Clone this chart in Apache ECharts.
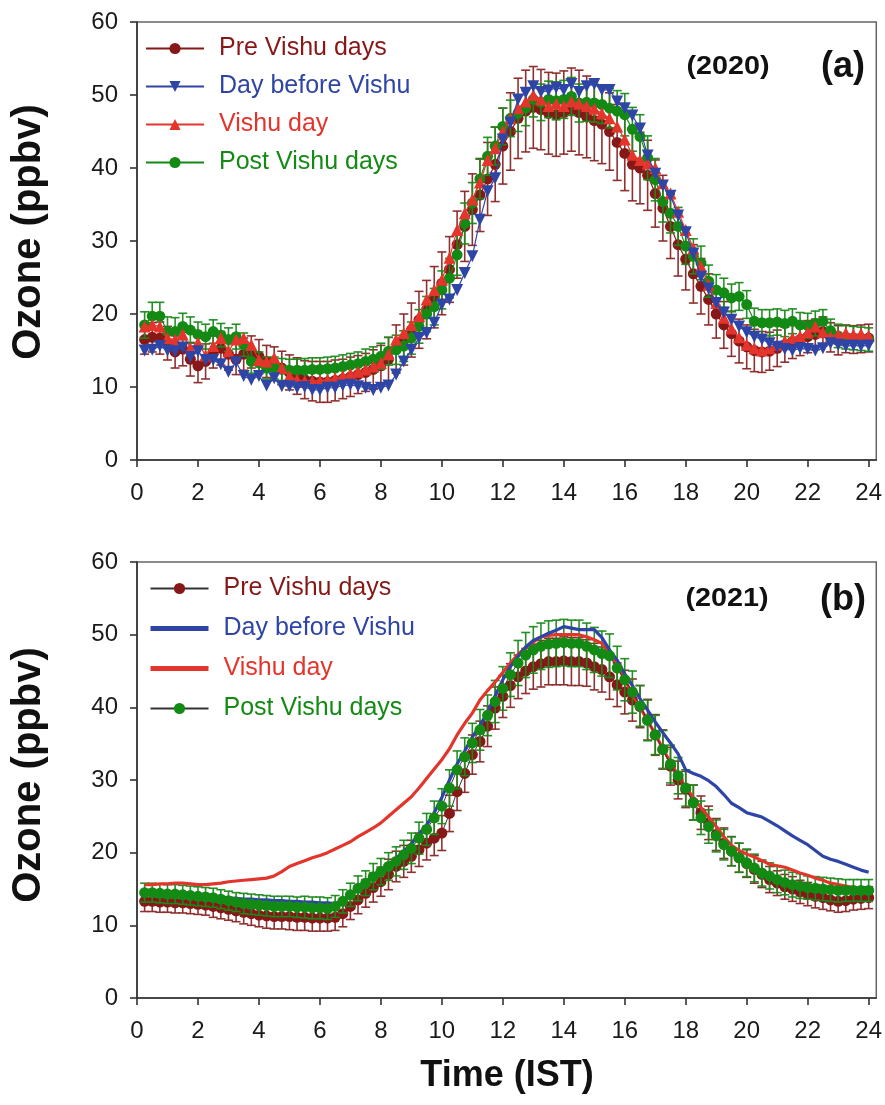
<!DOCTYPE html>
<html><head><meta charset="utf-8">
<script src="https://cdn.jsdelivr.net/npm/echarts@6/dist/echarts.min.js"></script>
<style>html,body{margin:0;padding:0;background:#fff}#c{width:885px;height:1105px}</style>
</head><body><div id="c"></div>
<script>
// time of day (IST), 15-min steps
const hours = [];
for (let i = 1; i <= 96; i++) hours.push(i * 0.25);
const xTicks = [0, 2, 4, 6, 8, 10, 12, 14, 16, 18, 20, 22, 24];
const seriesNames = ['Pre Vishu days', 'Day before Vishu', 'Vishu day', 'Post Vishu days'];

// ---- (a) 2020 ----
const preA = [
 16.5,16.8,16.7,16.0,14.8,15.2,13.8,12.9,
 13.5,14.8,15.3,14.5,13.8,14.5,14.8,14.2,
 13.5,13.2,12.6,12.0,11.5,11.0,10.8,10.7,
 10.7,10.9,11.1,11.4,11.7,12.0,12.4,12.9,
 13.8,15.2,16.5,17.8,19.2,20.6,22.3,24.2,
 26.1,29.5,32.0,34.3,36.3,38.5,40.5,43.0,
 45.0,46.8,47.8,48.3,48.0,47.5,47.3,47.6,
 48.0,47.6,47.0,46.5,46.0,45.0,43.5,42.0,
 40.5,40.0,39.0,36.5,34.5,32.0,29.5,27.5,
 25.5,23.8,22.0,20.0,18.5,17.3,16.3,15.5,
 15.0,14.8,14.9,15.3,15.8,16.2,16.5,16.9,
 17.2,17.6,16.8,16.4,16.6,16.5,16.6,16.7];
const blueA = [
 15.0,15.1,15.6,15.0,14.9,15.4,14.1,14.9,
 13.7,13.7,13.1,12.1,13.4,11.5,11.0,11.5,
 10.2,11.2,10.1,10.1,9.9,10.0,9.6,9.6,
 9.9,9.9,10.2,10.3,10.1,9.9,9.6,9.9,
 10.2,11.7,13.5,15.1,16.7,17.4,18.8,21.3,
 22.0,23.3,25.6,27.9,32.9,36.8,38.6,43.9,
 46.2,49.4,50.3,51.2,50.4,50.6,51.0,50.7,
 51.5,50.4,51.2,51.5,50.7,50.7,49.1,48.2,
 47.2,45.4,41.7,39.2,37.6,36.2,33.5,31.2,
 28.3,25.1,23.5,21.5,20.2,19.2,18.3,17.5,
 16.9,16.5,16.0,15.5,15.2,15.0,15.3,15.2,
 15.0,15.3,16.0,15.8,15.6,15.7,15.6,15.7];
const redA = [
 18.3,18.5,18.3,16.7,16.5,17.2,15.3,16.1,
 14.3,15.6,16.7,14.9,16.5,16.7,15.8,13.7,
 13.5,14.0,12.6,11.5,11.0,10.8,10.8,10.9,
 11.0,11.2,11.5,11.8,12.1,12.4,12.8,13.3,
 14.5,16.5,17.4,18.5,19.7,22.0,23.3,24.7,
 27.7,31.5,33.8,35.7,38.0,41.1,42.7,45.0,
 46.8,48.2,49.1,50.0,49.4,48.5,48.8,48.5,
 49.1,48.8,48.5,48.1,47.5,46.8,45.7,43.9,
 41.8,41.1,40.6,40.0,37.9,36.5,34.0,31.5,
 29.0,26.5,24.0,21.5,19.5,18.0,16.8,15.8,
 15.3,15.0,15.3,15.8,16.3,16.7,17.0,17.5,
 18.3,17.5,16.9,17.2,17.4,17.2,17.3,17.0];
const postA = [
 18.5,19.7,19.7,17.6,17.6,18.3,17.8,17.2,
 16.9,17.6,17.1,16.5,16.9,15.8,13.5,13.3,
 12.6,12.6,12.4,12.3,12.3,12.3,12.4,12.4,
 12.5,12.6,12.8,13.0,13.2,13.5,13.8,14.2,
 14.9,15.1,15.6,16.7,18.3,20.0,21.0,23.3,
 24.9,28.1,32.4,35.2,38.5,41.6,43.0,45.7,
 46.8,47.5,48.2,49.4,49.0,49.4,49.2,49.4,
 49.8,48.9,49.0,48.9,48.7,48.2,47.8,47.3,
 45.3,44.3,41.4,38.4,35.4,33.8,32.0,29.3,
 27.9,27.0,24.5,23.3,22.9,22.2,22.4,21.3,
 19.0,18.8,18.8,18.9,18.7,19.0,18.5,18.4,
 18.7,19.0,17.7,17.0,16.8,16.7,16.6,16.5];
const errPreA = [
 2.0,2.0,2.2,2.3,2.2,2.3,2.3,2.3,
 2.4,2.2,2.3,2.2,2.1,2.2,2.2,2.3,
 2.2,2.3,2.3,2.4,2.5,2.6,2.7,2.8,
 2.8,2.8,2.7,2.7,2.6,2.6,2.7,2.8,
 3.0,3.3,3.5,3.7,3.9,4.0,4.2,4.3,
 4.5,4.6,4.8,4.9,5.0,5.0,5.1,5.2,
 5.3,5.5,5.6,5.6,5.5,5.6,5.7,5.7,
 5.7,5.8,5.6,5.5,5.4,5.3,5.2,5.1,
 5.0,4.9,4.8,4.6,4.5,4.4,4.3,4.2,
 4.0,3.8,3.5,3.3,3.2,3.1,3.0,3.0,
 2.9,2.8,2.6,2.5,2.4,2.3,2.2,2.2,
 2.1,2.0,2.0,2.0,1.9,1.9,1.9,1.9];
const errPostA = [
 1.8,1.9,1.9,2.0,1.9,1.8,1.8,1.7,
 1.7,1.6,1.6,1.6,1.7,1.6,1.6,1.5,
 1.5,1.5,1.5,1.5,1.5,1.6,1.6,1.6,
 1.6,1.6,1.6,1.6,1.6,1.7,1.7,1.8,
 1.9,2.0,2.1,2.2,2.3,2.4,2.5,2.6,
 2.7,2.8,2.8,2.8,2.7,2.6,2.6,2.5,
 2.5,2.5,2.4,2.4,2.5,2.5,2.6,2.6,
 2.6,2.6,2.6,2.6,2.6,2.7,2.8,2.9,
 3.0,3.0,3.0,2.9,2.8,2.7,2.6,2.5,
 2.4,2.3,2.2,2.1,2.0,1.9,1.9,1.9,
 1.8,1.8,1.8,1.8,1.8,1.7,1.7,1.7,
 1.7,1.6,1.6,1.6,1.6,1.6,1.6,1.6];

// ---- (b) 2021 ----
const preB = [
 13.3,13.3,13.2,13.2,13.1,13.1,13.0,12.9,
 12.8,12.6,12.4,12.2,12.0,11.8,11.6,11.4,
 11.3,11.2,11.2,11.2,11.1,11.1,11.0,11.0,
 11.0,11.1,11.6,12.6,13.5,14.4,15.2,16.0,
 17.0,18.1,18.8,19.5,20.4,21.3,22.0,22.7,
 25.4,28.4,30.9,33.5,35.3,37.4,39.9,41.5,
 43.0,44.2,45.0,45.6,46.0,46.3,46.3,46.4,
 46.3,46.3,46.1,45.6,45.2,44.2,43.1,42.1,
 41.0,40.1,38.3,36.2,34.2,31.9,30.0,28.7,
 26.9,25.5,24.1,22.5,21.3,20.2,19.3,18.5,
 17.7,17.0,16.3,15.8,15.3,15.0,14.6,14.3,
 14.0,13.8,13.5,13.3,13.4,13.6,13.7,13.8];
const blueB = [
 14.6,14.6,14.5,14.5,14.4,14.4,14.3,14.2,
 14.1,14.0,13.9,13.8,13.7,13.6,13.6,13.5,
 13.5,13.4,13.4,13.3,13.3,13.2,13.2,13.1,
 13.1,13.0,13.4,14.3,15.2,16.0,16.9,17.6,
 18.4,19.2,20.2,21.2,22.6,23.8,25.5,27.6,
 30.0,32.2,34.0,35.9,37.5,39.4,41.6,43.8,
 45.6,47.0,48.3,49.2,49.7,50.2,50.6,51.1,
 50.9,50.7,50.7,50.7,49.6,47.9,46.5,44.6,
 43.0,41.2,39.6,38.0,36.5,35.1,33.6,31.4,
 30.9,30.5,29.9,29.1,28.0,26.8,26.2,25.5,
 25.2,24.9,24.3,23.7,23.0,22.3,21.7,21.1,
 20.3,19.5,19.1,18.8,18.4,18.0,17.6,17.3];
const redB = [
 15.6,15.6,15.7,15.7,15.8,15.8,15.7,15.6,
 15.6,15.7,15.8,16.0,16.1,16.2,16.3,16.4,
 16.5,16.8,17.4,18.1,18.5,18.9,19.3,19.6,
 20.0,20.5,21.0,21.5,22.2,22.8,23.4,24.1,
 25.0,25.9,26.8,27.7,28.9,30.2,31.5,32.8,
 34.3,36.2,37.8,39.2,41.0,42.3,43.5,44.8,
 46.1,47.3,48.2,49.0,49.7,49.9,50.0,50.0,
 50.0,50.0,49.7,49.3,48.8,47.5,45.8,43.8,
 41.8,40.0,38.2,36.3,34.3,32.4,30.6,29.0,
 27.6,26.2,24.9,23.6,22.2,21.0,20.3,19.8,
 19.4,18.9,18.4,18.2,18.0,17.6,17.2,16.9,
 16.5,16.2,15.8,15.6,15.4,15.2,15.0,14.9];
const postB = [
 14.5,14.5,14.4,14.3,14.3,14.2,14.1,14.0,
 13.9,13.8,13.6,13.4,13.2,13.0,12.9,12.8,
 12.7,12.6,12.6,12.6,12.5,12.5,12.4,12.4,
 12.3,12.6,13.3,14.2,15.1,15.8,16.7,17.4,
 18.1,18.8,19.7,20.6,22.0,23.2,24.8,26.4,
 28.9,31.4,33.2,35.1,36.9,38.9,40.8,42.6,
 44.5,46.1,47.2,47.9,48.4,48.7,48.8,48.9,
 48.8,48.8,48.4,47.9,47.4,47.1,45.4,43.8,
 42.1,40.2,38.2,36.2,34.2,32.2,30.6,28.9,
 26.9,24.8,23.6,22.3,21.1,20.2,19.3,18.6,
 17.9,17.2,16.8,16.3,15.9,15.6,15.4,15.2,
 15.1,15.0,14.9,14.8,14.8,14.8,14.8,14.8];
const errPreB = [
 1.4,1.4,1.4,1.4,1.4,1.4,1.4,1.4,
 1.4,1.5,1.5,1.5,1.5,1.6,1.6,1.6,
 1.7,1.7,1.7,1.8,1.8,1.8,1.8,1.8,
 1.8,1.8,1.8,1.8,1.9,1.9,2.0,2.0,
 2.1,2.1,2.2,2.2,2.3,2.3,2.4,2.4,
 2.5,2.6,2.6,2.7,2.8,2.8,2.9,2.9,
 3.0,3.0,3.1,3.1,3.2,3.2,3.2,3.3,
 3.3,3.3,3.2,3.2,3.1,3.1,3.0,3.0,
 2.9,2.9,2.8,2.8,2.7,2.6,2.6,2.5,
 2.4,2.3,2.3,2.2,2.1,2.0,2.0,1.9,
 1.9,1.8,1.8,1.7,1.7,1.7,1.6,1.6,
 1.6,1.6,1.5,1.5,1.5,1.5,1.5,1.5];
const errPostB = [
 1.3,1.3,1.3,1.3,1.3,1.3,1.3,1.3,
 1.3,1.3,1.3,1.3,1.3,1.4,1.4,1.4,
 1.4,1.4,1.4,1.4,1.4,1.5,1.5,1.5,
 1.5,1.5,1.6,1.6,1.7,1.7,1.8,1.8,
 1.9,2.0,2.0,2.1,2.2,2.2,2.3,2.4,
 2.5,2.6,2.6,2.7,2.8,2.8,2.9,3.0,
 3.0,3.1,3.1,3.2,3.2,3.2,3.2,3.2,
 3.2,3.2,3.2,3.1,3.1,3.0,3.0,2.9,
 2.9,2.8,2.8,2.7,2.6,2.6,2.5,2.5,
 2.4,2.3,2.3,2.2,2.1,2.0,2.0,1.9,
 1.9,1.8,1.8,1.8,1.7,1.7,1.7,1.6,
 1.6,1.6,1.6,1.6,1.5,1.5,1.5,1.5];

const C = {
  pre: '#861818', preBar: '#8a2626', blue: '#2f45a6', red: '#e3352b', green: '#138a14', greenBar: '#1a8a1a'
};
const FONT = '"Liberation Sans", Arial, sans-serif';

function pts(vals) { return vals.map((v, i) => [hours[i], v]); }
function bars(vals, err) { return vals.map((v, i) => [hours[i], v - err[i], v + err[i]]); }
function errSeries(vals, err, color, gi, z) {
  return {
    type: 'custom', xAxisIndex: gi, yAxisIndex: gi, z: z, silent: true,
    data: bars(vals, err), encode: { x: 0, y: [1, 2] },
    renderItem: function (params, api) {
      const x = api.value(0);
      const lo = api.coord([x, api.value(1)]);
      const hi = api.coord([x, api.value(2)]);
      const hw = 4.5;
      const st = { stroke: color, lineWidth: 1.6, fill: null, opacity: 0.95 };
      return { type: 'group', children: [
        { type: 'line', shape: { x1: lo[0], y1: lo[1], x2: hi[0], y2: hi[1] }, style: st },
        { type: 'line', shape: { x1: lo[0] - hw, y1: lo[1], x2: lo[0] + hw, y2: lo[1] }, style: st },
        { type: 'line', shape: { x1: hi[0] - hw, y1: hi[1], x2: hi[0] + hw, y2: hi[1] }, style: st }
      ]};
    }
  };
}

const SUF = ' \u200b(2021)';
function axisX(gi) {
  return {
    type: 'value', gridIndex: gi, min: 0, max: 24.25,
    axisLine: { onZero: false, lineStyle: { color: '#333', width: 1.6 } },
    axisTick: { show: true, length: 7, customValues: xTicks, lineStyle: { color: '#333', width: 1.6 } },
    axisLabel: { customValues: xTicks, fontSize: 24, color: '#1a1a1a', margin: 21, fontFamily: FONT },
    splitLine: { show: false }
  };
}
function axisY(gi) {
  return {
    type: 'value', gridIndex: gi, min: 0, max: 60, interval: 10,
    axisLine: { show: true, lineStyle: { color: '#333', width: 1.6 } },
    axisTick: { show: true, length: 7, lineStyle: { color: '#333', width: 1.6 } },
    axisLabel: { fontSize: 24, color: '#1a1a1a', margin: 19, fontFamily: FONT },
    splitLine: { show: false }
  };
}

const legendText = [C.pre, C.blue, C.red, C.green];

const option = {
  animation: false,
  backgroundColor: '#fff',
  textStyle: { fontFamily: FONT },
  grid: [
    { left: 137, right: 8, top: 22, height: 438, show: true, borderColor: '#666', borderWidth: 1.5, backgroundColor: 'transparent' },
    { left: 137, right: 8, top: 562, height: 436, show: true, borderColor: '#666', borderWidth: 1.5, backgroundColor: 'transparent' }
  ],
  xAxis: [axisX(0), axisX(1)],
  yAxis: [axisY(0), axisY(1)],
  legend: [
    {
      orient: 'vertical', left: 145, top: 36, itemWidth: 58, itemHeight: 14, itemGap: 13, padding: 0,
      textStyle: { fontSize: 25, lineHeight: 22, padding: [0, 0, 0, 10] },
      data: seriesNames.map((n, i) => ({ name: n, textStyle: { color: legendText[i] } }))
    },
    {
      orient: 'vertical', left: 148, top: 576, itemWidth: 58, itemHeight: 14, itemGap: 15, padding: 0,
      textStyle: { fontSize: 25, lineHeight: 22, padding: [0, 0, 0, 10] },
      formatter: n => n.replace(SUF, ''),
      data: seriesNames.map((n, i) => {
        const d = { name: n + SUF, textStyle: { color: legendText[i] } };
        if (i === 1 || i === 2) { d.itemStyle = { opacity: 0 }; d.lineStyle = { width: 5 }; }
        return d;
      })
    }
  ],
  graphic: [
    { type: 'text', x: 29, y: 232, rotation: Math.PI / 2, style: { text: 'Ozone (ppbv)', font: 'bold 40px ' + FONT, fill: '#111', align: 'center', verticalAlign: 'middle', textAlign: 'center', textVerticalAlign: 'middle' } },
    { type: 'text', x: 29, y: 775, rotation: Math.PI / 2, style: { text: 'Ozone (ppbv)', font: 'bold 40px ' + FONT, fill: '#111', align: 'center', verticalAlign: 'middle', textAlign: 'center', textVerticalAlign: 'middle' } },
    { type: 'text', x: 507, y: 1076, style: { text: 'Time (IST)', font: 'bold 36px ' + FONT, fill: '#111', align: 'center', verticalAlign: 'middle', textAlign: 'center', textVerticalAlign: 'middle' } },
    { type: 'text', x: 728, y: 67, scaleX: 1.15, style: { text: '(2020)', font: 'bold 25px ' + FONT, fill: '#111', align: 'center', verticalAlign: 'middle', textAlign: 'center', textVerticalAlign: 'middle' } },
    { type: 'text', x: 843, y: 67, style: { text: '(a)', font: 'bold 36px ' + FONT, fill: '#111', align: 'center', verticalAlign: 'middle', textAlign: 'center', textVerticalAlign: 'middle' } },
    { type: 'text', x: 727, y: 599, scaleX: 1.15, style: { text: '(2021)', font: 'bold 25px ' + FONT, fill: '#111', align: 'center', verticalAlign: 'middle', textAlign: 'center', textVerticalAlign: 'middle' } },
    { type: 'text', x: 843, y: 600, style: { text: '(b)', font: 'bold 36px ' + FONT, fill: '#111', align: 'center', verticalAlign: 'middle', textAlign: 'center', textVerticalAlign: 'middle' } }
  ],
  series: [
    // panel (a)
    errSeries(preA, errPreA, C.preBar, 0, 1),
    { name: seriesNames[0], type: 'line', xAxisIndex: 0, yAxisIndex: 0, z: 2, data: pts(preA), symbol: 'circle', symbolSize: 11,
      itemStyle: { color: C.pre }, lineStyle: { color: C.pre, width: 1.2 } },
    errSeries(postA, errPostA, C.greenBar, 0, 3),
    { name: seriesNames[3], type: 'line', xAxisIndex: 0, yAxisIndex: 0, z: 4, data: pts(postA), symbol: 'circle', symbolSize: 11,
      itemStyle: { color: C.green }, lineStyle: { color: C.green, width: 1.2 } },
    { name: seriesNames[2], type: 'line', xAxisIndex: 0, yAxisIndex: 0, z: 5, data: pts(redA), symbol: 'triangle', symbolSize: 12,
      itemStyle: { color: C.red }, lineStyle: { color: C.red, width: 1.2 } },
    { name: seriesNames[1], type: 'line', xAxisIndex: 0, yAxisIndex: 0, z: 6, data: pts(blueA), symbol: 'triangle', symbolRotate: 180, symbolSize: 12,
      itemStyle: { color: C.blue }, lineStyle: { color: C.blue, width: 1.2 } },
    // panel (b)
    errSeries(preB, errPreB, C.preBar, 1, 1),
    { name: seriesNames[0] + SUF, type: 'line', xAxisIndex: 1, yAxisIndex: 1, z: 2, data: pts(preB), symbol: 'circle', symbolSize: 11,
      itemStyle: { color: C.pre }, lineStyle: { color: '#333', width: 1 } },
    errSeries(postB, errPostB, C.greenBar, 1, 3),
    { name: seriesNames[2] + SUF, type: 'line', xAxisIndex: 1, yAxisIndex: 1, z: 4, data: pts(redB), showSymbol: false, symbol: 'none',
      itemStyle: { color: C.red }, lineStyle: { color: C.red, width: 3.2 } },
    { name: seriesNames[1] + SUF, type: 'line', xAxisIndex: 1, yAxisIndex: 1, z: 5, data: pts(blueB), showSymbol: false, symbol: 'none',
      itemStyle: { color: C.blue }, lineStyle: { color: C.blue, width: 3.2 } },
    { name: seriesNames[3] + SUF, type: 'line', xAxisIndex: 1, yAxisIndex: 1, z: 6, data: pts(postB), symbol: 'circle', symbolSize: 11,
      itemStyle: { color: C.green }, lineStyle: { color: '#333', width: 1 } }
  ]
};

const chart = echarts.init(document.getElementById('c'), null, { renderer: 'canvas' });
chart.setOption(option);
</script>
</body></html>
